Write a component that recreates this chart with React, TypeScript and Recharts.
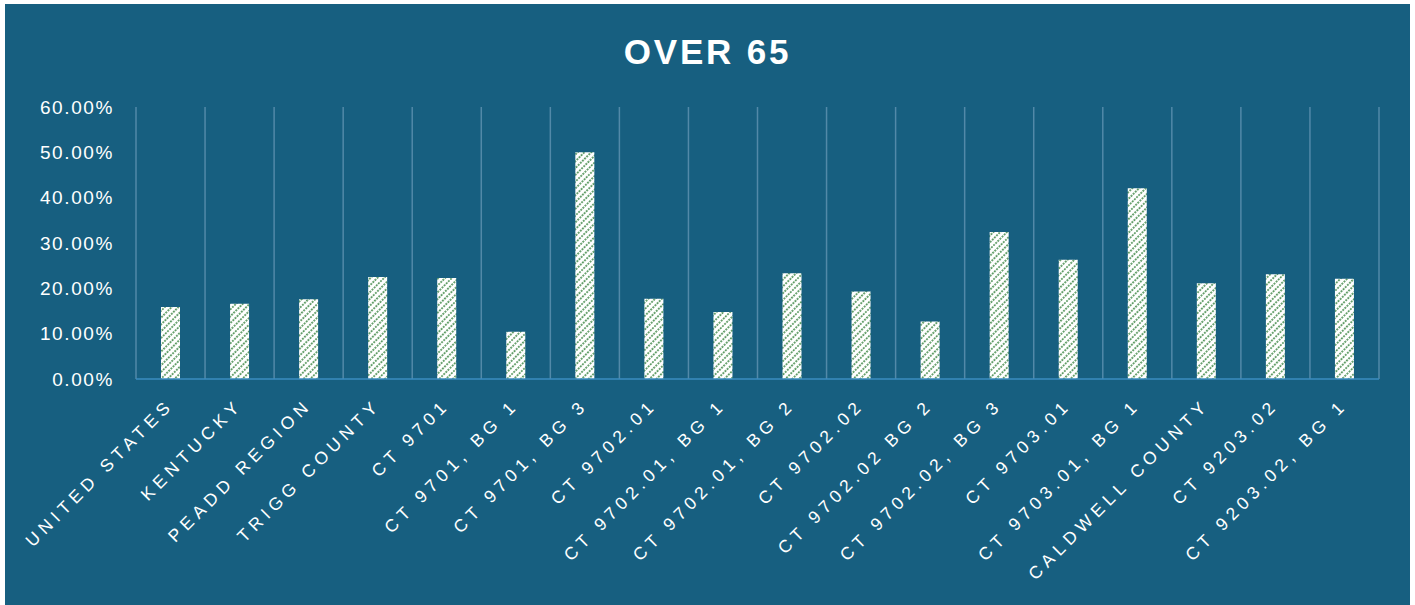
import React from "react";
import { BarChart, Bar, XAxis, YAxis, CartesianGrid } from "recharts";

const categories = [
  "UNITED STATES",
  "KENTUCKY",
  "PEADD REGION",
  "TRIGG COUNTY",
  "CT 9701",
  "CT 9701, BG 1",
  "CT 9701, BG 3",
  "CT 9702.01",
  "CT 9702.01, BG 1",
  "CT 9702.01, BG 2",
  "CT 9702.02",
  "CT 9702.02 BG 2",
  "CT 9702.02, BG 3",
  "CT 9703.01",
  "CT 9703.01, BG 1",
  "CALDWELL COUNTY",
  "CT 9203.02",
  "CT 9203.02, BG 1",
];

const over65 = [
  15.9, 16.6, 17.6, 22.5, 22.3, 10.4, 50.0, 17.7, 14.8, 23.3, 19.3, 12.7, 32.4,
  26.3, 42.1, 21.1, 23.1, 22.1,
];

const yTicks = [0, 10, 20, 30, 40, 50, 60];

const title = "OVER 65";

const data = categories.map((name, i) => ({ name, value: over65[i] }));

const FONT = "'Liberation Sans', Arial, sans-serif";

const XTick = (props: any) => {
  const { x, y, payload } = props;
  const ax = x + 4;
  const ay = y + 19;
  return (
    <text
      x={ax}
      y={ay}
      transform={`rotate(-45, ${ax}, ${ay})`}
      textAnchor="end"
      fill="#ffffff"
      fontSize={17.5}
      letterSpacing={5}
      fontFamily={FONT}
    >
      {payload.value}
    </text>
  );
};

export default function App() {
  return (
    <div
      style={{
        position: "absolute",
        left: 0,
        top: 0,
        width: 1415,
        height: 605,
        background: "#ffffff",
        overflow: "hidden",
      }}
    >
      <svg width={0} height={0} style={{ position: "absolute" }}>
        <defs>
          <pattern
            id="diagGreen"
            patternUnits="userSpaceOnUse"
            width={3}
            height={4.8}
            patternTransform="rotate(-45)"
          >
            <rect x={0} y={0} width={3} height={4.8} fill="#ffffff" />
            <line
              x1={0}
              y1={1}
              x2={3}
              y2={1}
              stroke="#22752a"
              strokeWidth={1.5}
              strokeDasharray="1.8 1.2"
            />
          </pattern>
        </defs>
      </svg>
      <div
        style={{
          position: "absolute",
          left: 5,
          top: 4,
          width: 1405,
          height: 601,
          background: "#175f80",
        }}
      >
        <div
          style={{
            position: "absolute",
            left: 0,
            top: 28,
            width: 1405,
            textAlign: "center",
            color: "#ffffff",
            fontFamily: FONT,
            fontWeight: 700,
            fontSize: 35,
            letterSpacing: 2.8,
            lineHeight: "40px",
          }}
        >
          {title}
        </div>
        <BarChart
          width={1405}
          height={601}
          data={data}
          margin={{ top: 103, right: 31, left: 0, bottom: 0 }}
          barCategoryGap={0}
        >
          <CartesianGrid
            horizontal={false}
            vertical={true}
            stroke="#5289a8"
            strokeWidth={1.5}
            verticalCoordinatesGenerator={({ offset }: any) =>
              categories
                .map((_, i) => offset.left + (i * offset.width) / categories.length)
                .concat([offset.left + offset.width])
            }
          />
          <XAxis
            dataKey="name"
            interval={0}
            height={226}
            tickLine={false}
            axisLine={{ stroke: "#3b8dc0", strokeWidth: 1.5 }}
            tick={<XTick />}
          />
          <YAxis
            width={131}
            domain={[0, 60]}
            ticks={yTicks}
            axisLine={false}
            tickLine={false}
            tickMargin={16}
            tick={{
              fill: "#ffffff",
              fontSize: 19,
              fontFamily: FONT,
              letterSpacing: 1.6,
            }}
            tickFormatter={(v: number) => `${v.toFixed(2)}%`}
          />
          <Bar
            dataKey="value"
            fill="url(#diagGreen)"
            barSize={19}
            isAnimationActive={false}
          />
        </BarChart>
      </div>
    </div>
  );
}
